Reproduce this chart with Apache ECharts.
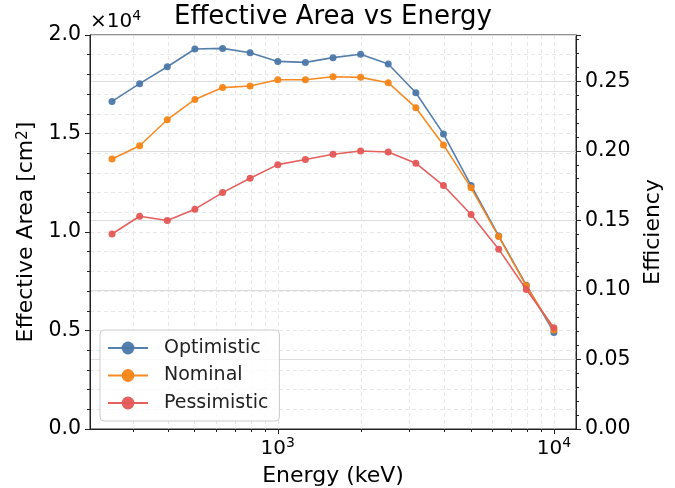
<!DOCTYPE html>
<html>
<head>
<meta charset="utf-8">
<script src="https://cdn.jsdelivr.net/npm/echarts@6/dist/echarts.min.js"></script>
<style>html,body{margin:0;padding:0;background:#fff}#c{width:675px;height:488px}</style>
</head>
<body>
<div id="c"></div>
<script>
// ---- data ----
var energies = [251, 316, 398, 501, 631, 794, 1000, 1259, 1585, 1995, 2512, 3162, 3981, 5012, 6310, 7943, 10000];
var optimistic = [16630, 17530, 18390, 19290, 19320, 19100, 18660, 18610, 18850, 19020, 18530, 17070, 14980, 12360, 9800, 7300, 4900];
var nominal = [13710, 14380, 15700, 16730, 17330, 17410, 17730, 17730, 17880, 17850, 17580, 16310, 14420, 12240, 9770, 7270, 5020];
var pessimistic = [9900, 10800, 10580, 11160, 12000, 12730, 13420, 13680, 13950, 14110, 14060, 13490, 12360, 10890, 9130, 7080, 5140];
var seriesNames = ['Optimistic', 'Nominal', 'Pessimistic'];
var majorX = [1000, 10000];
var minorX = [300, 400, 500, 600, 700, 800, 900, 2000, 3000, 4000, 5000, 6000, 7000, 8000, 9000];
var xMin = 208.9, xMax = 12023;
var areaMax = 20000, effMax = 0.2833;

function pairs(ys) { return energies.map(function (e, i) { return [e, ys[i]]; }); }

var FONT = 'DejaVu Sans';
var colors = ['#4c78a8', '#f58518', '#e45756'];
var gridDash = { color: '#e2e2e2', type: [4, 3], width: 0.8 };

var chart = echarts.init(document.getElementById('c'), null, { renderer: 'canvas' });
var supRich = {
  b: { fontFamily: FONT, fontSize: 20, color: '#000', padding: [5, 0, 0, 0], lineHeight: 20 },
  s: { fontFamily: FONT, fontSize: 14, color: '#000', verticalAlign: 'top', lineHeight: 14 }
};
var option = {
  animation: false,
  textStyle: { fontFamily: FONT },
  graphic: [{
    type: 'text', x: 333, y: 4,
    style: {
      text: 'Effective Area vs Energy', fill: '#000', align: 'center', verticalAlign: 'top',
      font: '26px "DejaVu Sans"'
    }
  }, {
    type: 'text', left: 90, top: 7,
    style: {
      text: '{m|×10}{s|4}', fill: '#000',
      rich: {
        m: { fontFamily: FONT, fontSize: 20, padding: [5, 0, 0, 0], lineHeight: 20 },
        s: { fontFamily: FONT, fontSize: 14, verticalAlign: 'top', lineHeight: 14 }
      }
    }
  }],
  legend: {
    left: 100, top: 330, orient: 'vertical',
    data: seriesNames,
    itemWidth: 40, itemHeight: 16, itemGap: 7.5,
    padding: [8, 11, 8, 7],
    backgroundColor: 'rgba(255,255,255,0.8)', borderColor: '#cccccc', borderWidth: 1, borderRadius: 4,
    textStyle: { fontFamily: FONT, fontSize: 19, color: '#222', lineHeight: 20, padding: [0, 0, 0, 11] }
  },
  grid: { left: 90, right: 99, top: 35, bottom: 59, outerBoundsMode: 'none', containLabel: false, show: true, borderColor: '#222', borderWidth: 1, backgroundColor: 'transparent' },
  xAxis: [{
    type: 'log', min: xMin, max: xMax, position: 'bottom',
    name: 'Energy (keV)', nameLocation: 'middle', nameGap: 36,
    nameTextStyle: { fontFamily: FONT, fontSize: 22, color: '#000' },
    axisLine: { show: true, lineStyle: { color: '#222', width: 1 } },
    axisTick: { show: true, length: 5, customValues: majorX, lineStyle: { color: '#222' } },
    axisLabel: {
      customValues: majorX, margin: 7, color: '#000',
      formatter: function (v) { return '{b|10}{s|' + Math.round(Math.log10(v)) + '}'; },
      rich: supRich
    },
    splitLine: { show: true, lineStyle: gridDash },
    minorTick: { show: false }
  }, {
    type: 'log', min: xMin, max: xMax, position: 'bottom',
    axisLine: { show: false },
    axisTick: { show: true, length: 3, customValues: minorX, lineStyle: { color: '#222' } },
    axisLabel: { show: false },
    splitLine: { show: true, lineStyle: gridDash }
  }],
  yAxis: [{
    type: 'value', min: 0, max: areaMax, interval: 5000,
    name: 'Effective Area [cm{s|2}]', nameLocation: 'middle', nameGap: 51,
    nameTextStyle: {
      fontFamily: FONT, fontSize: 22, color: '#000',
      rich: { s: { fontFamily: FONT, fontSize: 15, verticalAlign: 'top', lineHeight: 15 } }
    },
    axisLine: { show: true, lineStyle: { color: '#222' } },
    axisTick: { show: true, length: 5, lineStyle: { color: '#222' } },
    minorTick: { show: true, splitNumber: 5, length: 3, lineStyle: { color: '#222' } },
    axisLabel: { fontFamily: FONT, fontSize: 20.5, color: '#000', margin: 9, formatter: function (v) { return (v / 1e4).toFixed(1); } },
    splitLine: { show: true, lineStyle: gridDash },
    minorSplitLine: { show: true, lineStyle: gridDash }
  }, {
    type: 'value', min: 0, max: effMax, interval: 0.05, position: 'right',
    name: 'Efficiency', nameLocation: 'middle', nameGap: 66,
    nameTextStyle: { fontFamily: FONT, fontSize: 22, color: '#000' },
    axisLine: { show: true, lineStyle: { color: '#222' } },
    axisTick: { show: true, length: 5, lineStyle: { color: '#222' } },
    minorTick: { show: true, splitNumber: 5, length: 3, lineStyle: { color: '#222' } },
    axisLabel: { fontFamily: FONT, fontSize: 20.5, color: '#000', margin: 9, formatter: function (v) { return v.toFixed(2); }, showMaxLabel: false },
    splitLine: { show: true, lineStyle: { color: '#dcdcdc', width: 1.2 } }
  }],
  series: [optimistic, nominal, pessimistic].map(function (ys, i) {
    return {
      name: seriesNames[i], type: 'line', xAxisIndex: 0, yAxisIndex: 0,
      data: pairs(ys), symbol: 'circle', symbolSize: 7,
      color: colors[i],
      lineStyle: { width: 1.6, color: colors[i], opacity: 0.95 },
      itemStyle: { color: colors[i], opacity: 0.95 },
      z: 3 + i
    };
  })
};
chart.setOption(option);
</script>
</body>
</html>
